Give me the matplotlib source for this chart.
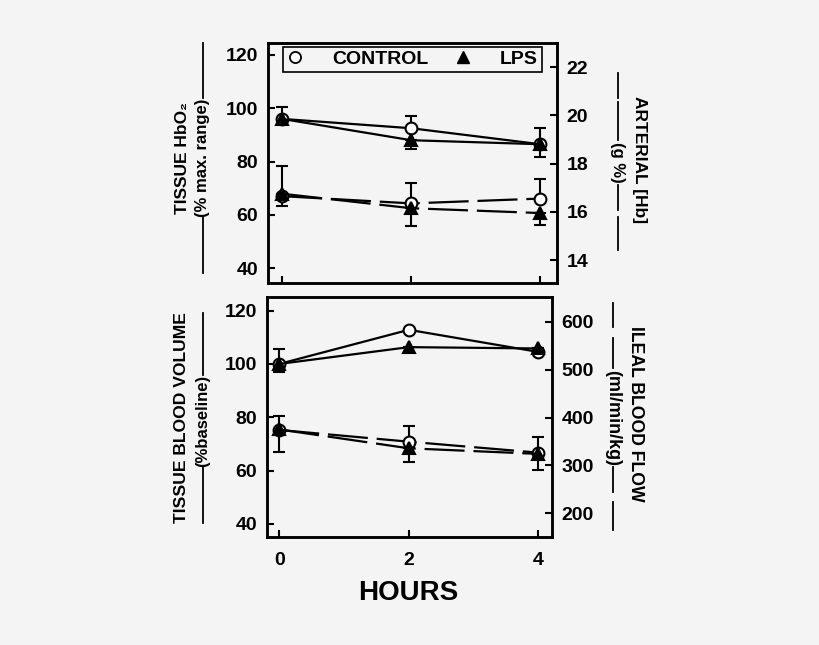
import matplotlib
matplotlib.use("Agg")
import matplotlib.pyplot as plt
from matplotlib.lines import Line2D

plt.rcParams['font.family'] = ['Liberation Sans', 'DejaVu Sans']
plt.rcParams['font.weight'] = 'bold'

BG = '#f4f4f4'
W, H = 820, 645

hours = [0, 2, 4]

# top panel: tissue HbO2 (left axis, solid) and arterial [Hb] (right axis, dashed)
hbo2_ctrl = [96, 92.5, 86.5]
hbo2_ctrl_up = [4.5, 4.7, 6.2]
hbo2_lps = [96, 88, 86.5]
hbo2_lps_down = [2.0, 3.3, 4.8]
hb_ctrl = [16.65, 16.35, 16.55]
hb_ctrl_up = [1.25, 0.85, 0.8]
hb_lps = [16.75, 16.15, 15.95]
hb_lps_down = [0.5, 0.75, 0.5]

# bottom panel: tissue blood volume (left, solid) and ileal blood flow (right, dashed)
bv_ctrl = [100, 112.8, 104.5]
bv_ctrl_up = [5.6, 0, 0]
bv_lps = [100, 106.3, 105.8]
bv_lps_down = [3.2, 2.0, 0]
flow_ctrl = [374, 349.5, 326.6]
flow_ctrl_up = [29, 33.5, 33.4]
flow_lps = [375, 335.7, 324]
flow_lps_down = [48, 28, 34]

left_ticks = [40, 60, 80, 100, 120]
hb_ticks = [14, 16, 18, 20, 22]
flow_ticks = [200, 300, 400, 500, 600]

fig = plt.figure(figsize=(W / 100, H / 100), dpi=100, facecolor=BG)


def px_box(x0, y0, x1, y1):
    return [x0 / W, 1 - y1 / H, (x1 - x0) / W, (y1 - y0) / H]


def style(ax):
    ax.set_facecolor(BG)
    for s in ax.spines.values():
        s.set_linewidth(1.8)
    ax.tick_params(axis='y', direction='in', length=5, width=1.5, labelsize=14, pad=7)
    ax.tick_params(axis='x', direction='in', length=5, width=1.5, labelsize=14, pad=11)


def series(ax, y, err, lower, marker, face, dashed):
    zero = [0] * len(err)
    yerr = [err, zero] if lower else [zero, err]
    ls = (0, (18, 4)) if dashed else '-'
    ax.errorbar(hours, y, yerr=yerr, color='black', lw=1.6, ls=ls,
                marker=marker, ms=8.5, mfc=face, mec='black', mew=1.5,
                capsize=4, capthick=1.5, elinewidth=1.5, zorder=3)


ax1 = fig.add_axes(px_box(268, 43, 557, 283))
ax1r = ax1.twinx()
ax2 = fig.add_axes(px_box(267, 297, 552, 537))
ax2r = ax2.twinx()
for a in (ax1, ax1r, ax2, ax2r):
    style(a)
ax1r.set_zorder(ax1.get_zorder() + 1)
ax2r.set_zorder(ax2.get_zorder() + 1)

series(ax1, hbo2_ctrl, hbo2_ctrl_up, False, 'o', 'white', False)
series(ax1, hbo2_lps, hbo2_lps_down, True, '^', 'black', False)
series(ax1r, hb_ctrl, hb_ctrl_up, False, 'o', 'white', True)
series(ax1r, hb_lps, hb_lps_down, True, '^', 'black', True)

series(ax2, bv_ctrl, bv_ctrl_up, False, 'o', 'white', False)
series(ax2, bv_lps, bv_lps_down, True, '^', 'black', False)
series(ax2r, flow_ctrl, flow_ctrl_up, False, 'o', 'white', True)
series(ax2r, flow_lps, flow_lps_down, True, '^', 'black', True)

ax1.set_xlim(-0.22, 4.26)
ax1.set_ylim(34.4, 124.5)
ax1.set_yticks(left_ticks)
ax1r.set_ylim(13.05, 23.0)
ax1r.set_yticks(hb_ticks)
ax1.set_xticks(hours)
ax1.set_xticklabels([])

ax2.set_xlim(-0.19, 4.21)
ax2.set_ylim(35.1, 125.1)
ax2.set_yticks(left_ticks)
ax2r.set_ylim(150.5, 651.6)
ax2r.set_yticks(flow_ticks)
ax2.set_xticks(hours)

handles = [Line2D([], [], ls='none', marker='o', ms=8, mfc='white', mec='black', mew=1.3),
           Line2D([], [], ls='none', marker='^', ms=9, mfc='black', mec='black')]
leg = ax1r.legend(handles, ['CONTROL', 'LPS'], ncol=2, loc='upper center',
                  bbox_to_anchor=(0.5, 0.985), borderaxespad=0, frameon=True,
                  fancybox=False, edgecolor='black', facecolor=BG, framealpha=1,
                  handlelength=0.8, handletextpad=1.5, columnspacing=1.4,
                  borderpad=0.2, prop={'size': 14, 'weight': 'bold'})
leg.get_frame().set_linewidth(1.2)


def ftext(x, y, s, size, rot):
    fig.text(x / W, 1 - y / H, s, fontsize=size, fontweight='bold', rotation=rot,
             ha='center', va='center')


def fline(x, y0, y1):
    fig.add_artist(Line2D([x / W, x / W], [1 - y0 / H, 1 - y1 / H], color='black', lw=1.3))


# axis labels with the line-style keys drawn beside them
ftext(183, 158.5, 'TISSUE HbO₂', 12.5, 90)
ftext(203, 157.5, '(% max. range)', 12, 90)
fline(203, 43, 98)
fline(203, 217, 273)

ftext(182, 418, 'TISSUE BLOOD VOLUME', 12.6, 90)
ftext(203, 421, '(%baseline)', 12, 90)
fline(203, 313, 375)
fline(203, 467, 523)

ftext(640, 160, 'ARTERIAL [Hb]', 12.5, 270)
ftext(618, 162.5, '(g %)', 12, 270)
for y0, y1 in [(73, 98), (102, 140), (185, 210), (217, 250)]:
    fline(618, y0, y1)

ftext(636, 413.5, 'ILEAL BLOOD FLOW', 12.7, 270)
ftext(613, 417.5, '(ml/min/kg)', 13, 270)
for y0, y1 in [(303, 327), (338, 368), (467, 492), (502, 530)]:
    fline(613, y0, y1)

ftext(408, 593, 'HOURS', 20, 0)

fig.savefig('out.png', dpi=100, facecolor=BG)
